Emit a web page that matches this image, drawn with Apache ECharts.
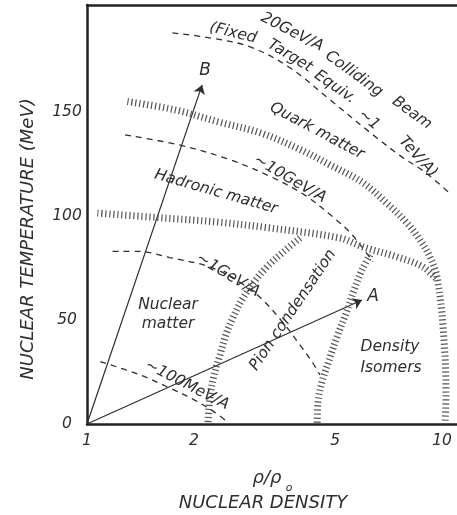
<!DOCTYPE html>
<html>
<head>
<meta charset="utf-8">
<script src="https://cdn.jsdelivr.net/npm/echarts@6/dist/echarts.min.js"></script>
<style>html,body{margin:0;padding:0;background:#fff;}#c{width:457px;height:515px;}</style>
</head>
<body>
<div id="c"></div>
<script>
// ---- data (density ρ/ρ0, temperature MeV) ----
const xTickValues = [1, 2, 5, 10];
const yTickValues = [0, 50, 100, 150];

const beam20GeV   = [[1.74,188],[2.22,185.6],[2.88,181.3],[3.73,171.2],[4.84,155.8],[6.39,139],[7.62,129],[8.96,121],[10.5,111]];
const beam10GeV   = [[1.28,139],[1.83,134],[2.53,127],[3.28,119],[4.11,110],[4.93,99.5],[5.51,92],[5.95,85],[6.39,78]];
const beam1GeV    = [[1.18,83],[1.39,83],[1.71,80],[2.22,75.5],[2.70,68],[3.11,60],[3.57,48.6],[3.98,38],[4.30,30],[4.53,23.6]];
const beam100MeV  = [[1.09,30],[1.41,23.6],[1.71,17.3],[2.01,11.5],[2.26,6.3],[2.45,1.9]];

const quarkBoundary    = [[1.30,155],[1.77,151],[2.37,145],[3.07,140],[3.98,132],[4.84,124.5],[5.99,116],[7.00,106],[7.97,96.6],[8.67,88.5],[9.25,80.3],[9.68,70.7],[10.07,46.6],[10.26,14.9],[10.2,0]];
const hadronBoundary   = [[1.07,101.4],[1.50,99.5],[2.32,97.1],[3.28,94.2],[5.16,89.4],[5.99,85.1],[7.47,80.3],[8.84,75.5],[9.68,69.2]];
const pionLeftBoundary = [[3.98,89.4],[3.57,82.7],[3.21,75.5],[2.94,67.8],[2.73,59.6],[2.58,51.4],[2.46,42.8],[2.37,33.2],[2.28,23.6],[2.22,12.5],[2.19,0]];
const pionRightBoundary= [[6.27,81.3],[5.95,74],[5.65,64.4],[5.37,53.4],[5.06,41.8],[4.81,30.8],[4.59,20.2],[4.47,10.1],[4.45,0]];

const trajectoryB = [[1,0],[2.11,163]];
const trajectoryA = [[1,0],[5.95,59.6]];

// ---- chart ----
const ink = '#2e2e2e';
const font = 'DejaVu Sans';
const chart = echarts.init(document.getElementById('c'), null, {renderer:'canvas'});

function dashed(data){
  return {type:'line', data, smooth:0.35, symbol:'none', silent:true,
    lineStyle:{color:ink, width:1.3, type:[6,5]}};
}
function hatched(data){
  return {type:'line', data, smooth:0.35, symbol:'none', silent:true,
    lineStyle:{color:'#555', width:7, type:[1.2,2.8]}};
}

const labels = [
  {t:'20GeV/A', x:292, y:32, r:-27},
  {t:'Colliding', x:354, y:74, r:-36},
  {t:'Beam', x:412, y:113, r:-36},
  {t:'(Fixed', x:233, y:33, r:-14},
  {t:'Target', x:290, y:56, r:-31},
  {t:'Equiv.', x:335, y:87, r:-35},
  {t:'~1', x:369, y:120, r:-40},
  {t:'TeV/A)', x:418, y:157, r:-48},
  {t:'Quark matter', x:317, y:131, r:-28},
  {t:'~10GeV/A', x:290, y:179, r:-30},
  {t:'Hadronic matter', x:216, y:192, r:-16},
  {t:'~1GeV/A', x:228, y:275, r:-31},
  {t:'Nuclear', x:168, y:305, r:0},
  {t:'matter', x:168, y:324, r:0},
  {t:'~100MeV/A', x:187, y:385, r:-27},
  {t:'Pion condensation', x:293, y:310, r:56},
  {t:'Density', x:390, y:347, r:0},
  {t:'Isomers', x:391, y:368, r:0},
  {t:'B', x:205, y:71, r:0, s:17},
  {t:'A', x:373, y:297, r:0, s:17}
];

const graphics = labels.map(l => ({
  type:'text', x:l.x, y:l.y, rotation:l.r*Math.PI/180, silent:true,
  style:{text:l.t, fontFamily:font, fontStyle:'italic', fontSize:l.s||15.5, fill:ink,
         align:'center', verticalAlign:'middle'}
}));
graphics.push(
  {type:'text', x:28, y:239, rotation:Math.PI/2, silent:true,
   style:{text:'NUCLEAR TEMPERATURE (MeV)', fontFamily:font, fontStyle:'italic', fontSize:18, fill:ink, align:'center', verticalAlign:'middle'}},
  {type:'text', x:267, y:478, silent:true,
   style:{text:'ρ/ρ', fontFamily:font, fontStyle:'italic', fontSize:18, fill:ink, align:'center', verticalAlign:'middle'}},
  {type:'text', x:289, y:488, silent:true,
   style:{text:'o', fontFamily:font, fontStyle:'italic', fontSize:11, fill:ink, align:'center', verticalAlign:'middle'}},
  {type:'text', x:263, y:503, silent:true,
   style:{text:'NUCLEAR DENSITY', fontFamily:font, fontStyle:'italic', fontSize:18, fill:ink, align:'center', verticalAlign:'middle'}}
);

const axisFont = {fontFamily:font, fontStyle:'italic', fontSize:15.5, color:ink};

chart.setOption({
  animation:false,
  backgroundColor:'#fff',
  grid:{left:87, right:0, top:5, bottom:91, outerBoundsMode:'none', containLabel:false},
  xAxis:[
    {type:'log', logBase:10, min:1, max:11.02, position:'bottom',
     axisLine:{show:true, lineStyle:{color:'#222', width:2.5}},
     axisTick:{show:false}, minorTick:{show:false}, splitLine:{show:false}, minorSplitLine:{show:false},
     axisLabel:Object.assign({show:true, margin:9, customValues:xTickValues, formatter:v=>String(v)}, axisFont)},
    {type:'log', logBase:10, min:1, max:11.02, position:'top',
     axisLine:{show:true, lineStyle:{color:'#222', width:2.5}},
     axisTick:{show:false}, splitLine:{show:false}, axisLabel:{show:false}}
  ],
  yAxis:{type:'value', min:0, max:201.4,
    axisLine:{show:true, lineStyle:{color:'#222', width:2.5}},
    axisTick:{show:false}, splitLine:{show:false},
    axisLabel:Object.assign({show:true, margin:20, align:'center', customValues:yTickValues, formatter:v=>String(v)}, axisFont)},
  series:[
    dashed(beam20GeV), dashed(beam10GeV), dashed(beam1GeV), dashed(beam100MeV),
    hatched(quarkBoundary), hatched(hadronBoundary), hatched(pionLeftBoundary), hatched(pionRightBoundary),
    {type:'lines', coordinateSystem:'cartesian2d', silent:true,
     symbol:['none','arrow'], symbolSize:9,
     lineStyle:{color:ink, width:1.2, opacity:1, curveness:0},
     data:[{coords:trajectoryB},{coords:trajectoryA}]}
  ],
  graphic:graphics
});
</script>
</body>
</html>
